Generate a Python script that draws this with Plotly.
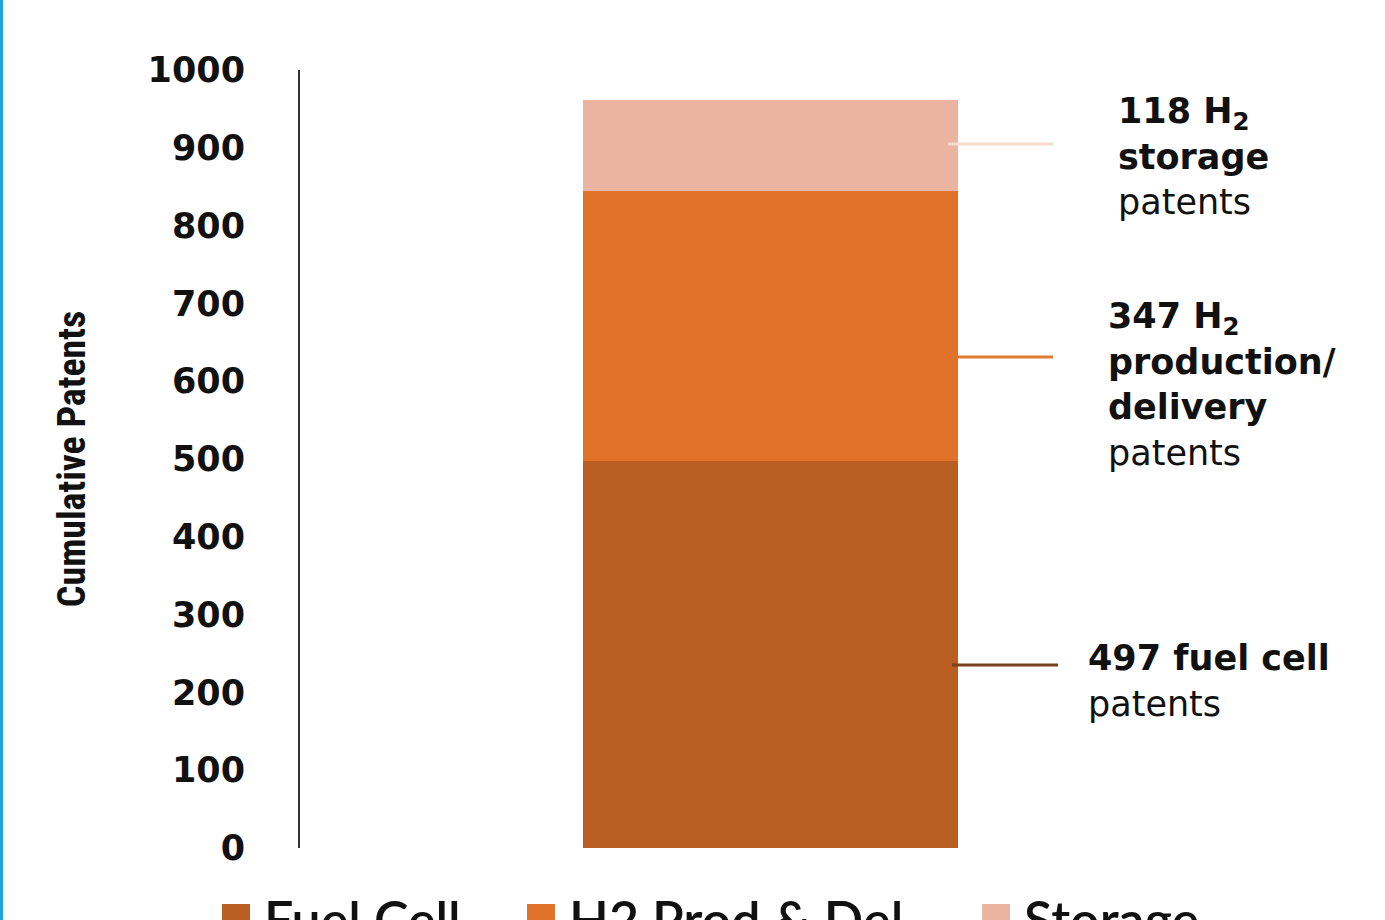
import plotly.graph_objects as go

# Cumulative patent counts by technology area
categories = ["Patents"]
series_names = ["Fuel Cell", "H2 Prod & Del", "Storage"]
fuel_cell = [497]
h2_prod_del = [347]
storage = [118]
y_ticks = [0, 100, 200, 300, 400, 500, 600, 700, 800, 900, 1000]

colors = ["#b95d20", "#e07329", "#ebb4a0"]
leader_colors = ["#7a3f1c", "#e07a33", "#f8dccb"]

W, H = 1385, 920
L, R, T, B = 300, 0, 70, 72
PW, PH = W - L - R, H - T - B


def px(x):
    return (x - L) / PW


def py(y):
    return (H - B - y) / PH


fig = go.Figure()
for name, vals, col in zip(series_names, [fuel_cell, h2_prod_del, storage], colors):
    fig.add_trace(go.Bar(x=categories, y=vals, name=name, marker_color=col,
                         marker_line_width=0, width=0.3985, showlegend=False))

# callout labels
label_font = dict(family="DejaVu Sans, Verdana, sans-serif", size=35, color="#111111")
labels = [
    (f"<b>{fuel_cell[0]} fuel cell</b><br>patents", 1086, 681, 0),
    (f"<b>{h2_prod_del[0]} H<sub>2</sub></b><br><b>production/</b><br><b>delivery</b><br>patents", 1106, 385, 1),
    (f"<b>{storage[0]} H<sub>2</sub></b><br><b>storage</b><br>patents", 1116, 156, 2),
]
leaders = [(952, 1058, 665), (958, 1053, 357), (948, 1053, 144)]
for (text, lx, ly, i), (x0, x1, yy) in zip(labels, leaders):
    fig.add_annotation(text=text, xref="paper", yref="paper", x=px(lx), y=py(ly),
                       xanchor="left", yanchor="middle", align="left",
                       showarrow=False, font=label_font)
    fig.add_shape(type="line", xref="paper", yref="paper",
                  x0=px(x0), x1=px(x1), y0=py(yy), y1=py(yy),
                  line=dict(color=leader_colors[i], width=3))

# legend row along the bottom edge
legend_x = [222, 527, 982]
for name, col, lx in zip(series_names, colors, legend_x):
    fig.add_shape(type="rect", xref="paper", yref="paper",
                  x0=px(lx), x1=px(lx + 28), y0=py(928), y1=py(904),
                  fillcolor=col, line_width=0)
    fig.add_annotation(text=name, xref="paper", yref="paper", x=px(lx + 40), y=py(919),
                       xanchor="left", yanchor="middle", showarrow=False,
                       font=dict(family="Lato, Liberation Sans, sans-serif", size=52,
                                 color="#111111", weight=600))

# left frame edge
fig.add_shape(type="rect", xref="paper", yref="paper",
              x0=px(0), x1=px(3), y0=py(H), y1=py(0),
              fillcolor="#1aa3e0", line_width=0)

fig.update_layout(
    width=W, height=H, autosize=False,
    margin=dict(l=L, r=R, t=T, b=B, pad=0),
    barmode="stack",
    plot_bgcolor="white", paper_bgcolor="white",
    xaxis=dict(visible=False, range=[-0.5, 0.6529]),
    yaxis=dict(
        range=[0, 1000], tickvals=y_ticks, showgrid=False, zeroline=False,
        showline=True, linecolor="#333333", linewidth=2,
        ticks="", ticklabelstandoff=46,
        tickfont=dict(family="DejaVu Sans, Verdana, sans-serif", size=35, color="#111111", weight="bold"),
        title=dict(text="Cumulative Patents", standoff=50,
                   font=dict(family="Liberation Sans Narrow, Roboto Condensed, Liberation Sans, sans-serif",
                             size=38, color="#111111", weight="bold")),
    ),
)

fig.write_html("out.html")
